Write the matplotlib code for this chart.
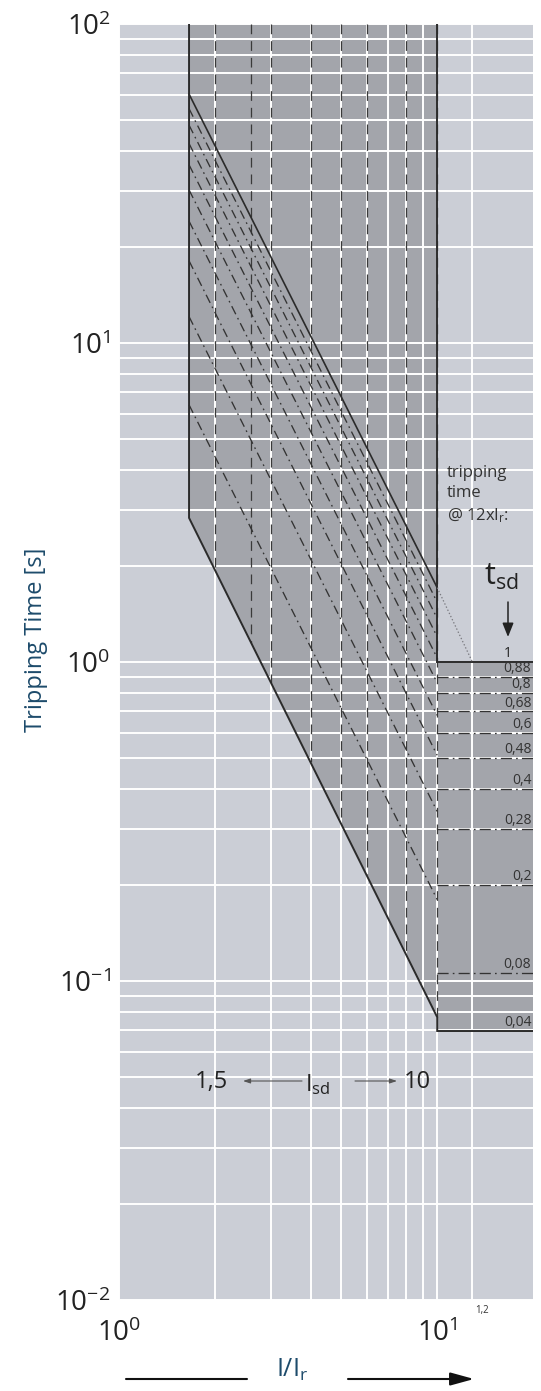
import numpy as np
import matplotlib
matplotlib.use('Agg')
import matplotlib.pyplot as plt
from matplotlib.patches import Polygon
from matplotlib.ticker import FixedLocator, NullFormatter, LogLocator

plt.rcParams['font.family'] = ['Open Sans', 'DejaVu Sans']
plt.rcParams['mathtext.fontset'] = 'custom'
plt.rcParams['mathtext.rm'] = 'Open Sans'
plt.rcParams['mathtext.it'] = 'Open Sans'
plt.rcParams['mathtext.default'] = 'regular'
plt.rcParams['lines.scale_dashes'] = False

# ---------------- data ----------------
x_limits = [1, 20]
t_limits = [0.01, 100]
xtick_vals = [1, 10]
xtick_labels = ['$10^{0}$', '$10^{1}$']
ytick_vals = [0.01, 0.1, 1, 10, 100]
ytick_labels = ['$10^{-2}$', '$10^{-1}$', '$10^{0}$', '$10^{1}$', '$10^{2}$']
x_minor_grid = [2, 3, 4, 5, 6, 7, 8, 9, 12.9]

isd_min = 1.66
isd_max = 10
isd_x = [2, 2.6, 3, 4, 5, 6, 8, 10]
isd_bottom = [1.94, 1.15, 0.86, 0.485, 0.31, 0.215, 0.121, 0.077]

upper_x = [1.66, 10]
upper_t = [60.3, 1.71]
lower_x = [1.66, 10]
lower_t = [2.83, 0.077]
lower_end_t = 0.0697

tsd_top_level = 1.0
tsd_levels = [0.9, 0.8, 0.7, 0.6, 0.5, 0.4, 0.3, 0.2, 0.106]
tsd_labels = ['0,88', '0,8', '0,68', '0,6', '0,48', '0,4', '0,28', '0,2', '0,08']
diag_start = [54.3, 48.2, 42.2, 36.2, 30.2, 24.1, 18.1, 12.1, 6.4]
diag_end = [1.54, 1.37, 1.20, 1.03, 0.86, 0.68, 0.51, 0.34, 0.18]

dotted_x = [10, 12.9]
dotted_t = [1.71, 1.0]

# ---------------- style ----------------
BG = '#cbced6'
SHADE = '#a3a5ab'
DARK = '#2b2b2b'
BLUE = '#1d4b6b'
W, H = 541, 1391

fig = plt.figure(figsize=(W / 100, H / 100), dpi=100)
ax = fig.add_axes([119 / W, 1 - 1300 / H, (533 - 119) / W, (1300 - 24) / H])
ax.set_xscale('log')
ax.set_yscale('log')
ax.set_xlim(*x_limits)
ax.set_ylim(*t_limits)
ax.set_facecolor(BG)
for s in ax.spines.values():
    s.set_visible(False)

ax.set_xticks(xtick_vals)
ax.set_xticklabels(xtick_labels)
ax.xaxis.set_minor_locator(FixedLocator(x_minor_grid))
ax.xaxis.set_minor_formatter(NullFormatter())
ax.set_yticks(ytick_vals)
ax.set_yticklabels(ytick_labels)
ax.yaxis.set_minor_locator(LogLocator(base=10, subs=np.arange(2, 10)))
ax.yaxis.set_minor_formatter(NullFormatter())
ax.tick_params(axis='both', which='both', length=0, labelsize=20, colors='#222222')
ax.tick_params(axis='x', pad=14)
ax.tick_params(axis='y', pad=6)
ax.set_axisbelow(True)
ax.grid(True, which='both', color='white', lw=1.4)

# shaded band
poly = [(isd_min, t_limits[1]), (lower_x[0], lower_t[0]), (lower_x[1], lower_t[1]),
        (isd_max, lower_end_t), (x_limits[1], lower_end_t), (x_limits[1], tsd_top_level),
        (isd_max, tsd_top_level), (isd_max, t_limits[1])]
ax.add_patch(Polygon(poly, closed=True, facecolor=SHADE, edgecolor='none', zorder=0.2))

# Isd dashed verticals
for xv, tb in zip(isd_x, isd_bottom):
    ax.plot([xv, xv], [t_limits[1], tb], color='#3a3a3a', lw=0.9,
            linestyle=(0, (7, 5)), zorder=3)

# tsd dash-dot diagonals and horizontals
dd = (0, (6.5, 3, 1.2, 3))
for ts, te in zip(diag_start, diag_end):
    ax.plot([isd_min, isd_max], [ts, te], color='#333333', lw=0.95, linestyle=dd, zorder=3)
for lv in tsd_levels:
    ax.plot([isd_max, x_limits[1]], [lv, lv], color='#333333', lw=0.95,
            linestyle=(0, (8, 3, 1.2, 3)), zorder=3)

# outlines
ax.plot([isd_min, lower_x[0], lower_x[1], isd_max, x_limits[1]],
        [t_limits[1], lower_t[0], lower_t[1], lower_end_t, lower_end_t],
        color=DARK, lw=1.4, zorder=4, solid_joinstyle='miter')
ax.plot([isd_max, isd_max, x_limits[1]], [t_limits[1], tsd_top_level, tsd_top_level],
        color=DARK, lw=1.4, zorder=4, solid_joinstyle='miter')
ax.plot(upper_x, upper_t, color=DARK, lw=1.2, zorder=4)
ax.plot(dotted_x, dotted_t, color='#7a7a80', lw=0.9, linestyle=(0, (1, 1.5)), zorder=4)

# tsd labels
for lv, lb in zip(tsd_levels, tsd_labels):
    ax.annotate(lb, xy=(19.75, lv), xytext=(0, 0.5), textcoords='offset points',
                ha='right', va='bottom', fontsize=10, color='#333333', zorder=5)
ax.annotate('0,04', xy=(19.75, lower_end_t), xytext=(0, 0.5), textcoords='offset points',
            ha='right', va='bottom', fontsize=10, color='#333333', zorder=5)


def F(px, py):
    return (px / W, 1 - py / H)


fig.text(*F(508, 661), '1', ha='center', va='bottom', fontsize=10, color='#222222')
fig.text(*F(447, 465), 'tripping\ntime\n@ 12xI$_r$:', ha='left', va='top',
         fontsize=12, color='#333333', linespacing=1.35)
fig.text(*F(484, 585), 't$_{sd}$', ha='left', va='baseline', fontsize=22, color='#222222')
ax.annotate('', xy=F(508, 637), xytext=F(508, 602), xycoords='figure fraction',
            textcoords='figure fraction',
            arrowprops=dict(arrowstyle='-|>,head_length=0.7,head_width=0.28', color='#222222',
                            lw=1.1, mutation_scale=12, shrinkA=0, shrinkB=0))

# Isd range annotation
fig.text(*F(211, 1082), '1,5', ha='center', va='center', fontsize=17, color='#222222')
fig.text(*F(417, 1082), '10', ha='center', va='center', fontsize=17, color='#222222')
fig.text(*F(305, 1091), 'I$_{sd}$', ha='left', va='baseline', fontsize=17, color='#222222')
ax.annotate('', xy=F(243, 1081), xytext=F(302, 1081), xycoords='figure fraction',
            textcoords='figure fraction',
            arrowprops=dict(arrowstyle='-|>,head_length=0.6,head_width=0.2', color='#555555',
                            lw=0.8, mutation_scale=7, shrinkA=0, shrinkB=0))
ax.annotate('', xy=F(397, 1081), xytext=F(355, 1081), xycoords='figure fraction',
            textcoords='figure fraction',
            arrowprops=dict(arrowstyle='-|>,head_length=0.6,head_width=0.2', color='#555555',
                            lw=0.8, mutation_scale=7, shrinkA=0, shrinkB=0))

# small "1,2" annotation
fig.text(*F(482, 1310), '1,2', ha='center', va='center', fontsize=7, color='#333333')

# axis labels
ax.set_ylabel('Tripping Time [s]', fontsize=17, color=BLUE)
ax.yaxis.set_label_coords((48 - 119) / 414, (1300 - 640) / 1276)
fig.text(*F(292, 1370), 'I/I$_r$', ha='center', va='center', fontsize=18, color=BLUE)
ax.annotate('', xy=F(247, 1379), xytext=F(126, 1379), xycoords='figure fraction',
            textcoords='figure fraction',
            arrowprops=dict(arrowstyle='-', color='#111111', lw=1.5, shrinkA=0, shrinkB=0))
ax.annotate('', xy=F(474, 1379), xytext=F(348, 1379), xycoords='figure fraction',
            textcoords='figure fraction',
            arrowprops=dict(arrowstyle='-|>,head_length=0.8,head_width=0.22', color='#111111',
                            lw=1.5, mutation_scale=18, shrinkA=0, shrinkB=0))

fig.savefig('out.png', dpi=100, facecolor='white')
